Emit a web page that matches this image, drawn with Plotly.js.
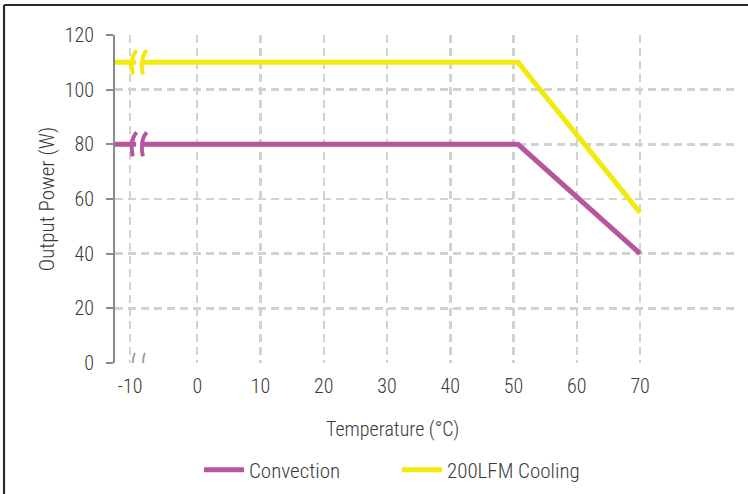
<!DOCTYPE html>
<html>
<head>
<meta charset="utf-8">
<script src="https://cdn.plot.ly/plotly-3.0.1.min.js"></script>
<style>
html,body{margin:0;padding:0;background:#fff;}
#chart{width:748px;height:494px;}
</style>
</head>
<body>
<div id="chart"></div>
<script>
// ---- data ----
const tempPoints = [-13, 50.7, 70];          // °C (axis starts left of the -10 break)
const convection = [80, 80, 40];             // W
const cooling200 = [110, 110, 55];           // W
const seriesNames = ['Convection', '200LFM Cooling'];
const seriesColors = ['#b8559f', '#f2ea0a'];

const xTickVals = [-10.6, 0, 10, 20, 30, 40, 50, 60, 70];
const xTickText = ['-10', '0', '10', '20', '30', '40', '50', '60', '70'];
const yTickVals = [0, 20, 40, 60, 80, 100, 120];

const FONT = "'Roboto Condensed', 'Liberation Sans Narrow', Roboto, sans-serif";
const TXT = '#3a3a3a';
const W = 300;

// break marks (x anchor positions in data units)
const breakX = [-10.05, -8.45];

function breakPath() {
  return 'M 3,12 C -2,7 -3,-3 -1,-12';
}
const shapes = [];
// line breaks on the two series
[[80, seriesColors[0]], [110, seriesColors[1]]].forEach(([yv, col]) => {
  shapes.push({type: 'rect', layer: 'above', xref: 'x', yref: 'y',
    xsizemode: 'pixel', ysizemode: 'pixel', xanchor: breakX[0], yanchor: yv,
    x0: 2.5, x1: 8.5, y0: -4, y1: 4, fillcolor: '#ffffff', line: {width: 0}});
  breakX.forEach(bx => shapes.push({type: 'path', layer: 'above', xref: 'x', yref: 'y',
    xsizemode: 'pixel', ysizemode: 'pixel', xanchor: bx, yanchor: yv,
    path: breakPath(), line: {color: col, width: 4}}));
});
// axis break on x axis
breakX.forEach(bx => shapes.push({type: 'path', layer: 'above', xref: 'x', yref: 'y',
  xsizemode: 'pixel', ysizemode: 'pixel', xanchor: bx - 0.1, yanchor: 0,
  path: 'M 2,10 C -2,5 2,-5 -2,-10', line: {color: '#a0a0a0', width: 2}}));
// figure frame (top and left)
shapes.push({type: 'line', xref: 'paper', yref: 'paper', x0: -0.179, x1: 1.03, y0: 1.0915, y1: 1.0915,
  line: {color: '#2a2a2a', width: 2.2}});
shapes.push({type: 'line', xref: 'paper', yref: 'paper', x0: -0.179, x1: -0.179, y0: 1.0915, y1: -0.42,
  line: {color: '#2a2a2a', width: 2.2}});

const traces = [
  {x: tempPoints, y: convection, name: seriesNames[0], mode: 'lines',
   line: {color: seriesColors[0], width: 5}, cliponaxis: true},
  {x: tempPoints, y: cooling200, name: seriesNames[1], mode: 'lines',
   line: {color: seriesColors[1], width: 5}, cliponaxis: true}
];

const gridStyle = {showgrid: true, gridcolor: '#d2d2d2', gridwidth: 2.5, griddash: '8px,5px'};

const layout = {
  width: 748, height: 494,
  margin: {l: 115, r: 13, t: 35, b: 131, autoexpand: false},
  paper_bgcolor: '#ffffff', plot_bgcolor: '#ffffff',
  font: {family: FONT, color: TXT, size: 20, weight: W},
  showlegend: true,
  legend: {orientation: 'h', xref: 'container', yref: 'container',
    x: 0.266, xanchor: 'left', y: 0.0486, yanchor: 'middle', itemwidth: 40,
    font: {family: FONT, size: 21, color: TXT, weight: W}, entrywidth: 143, entrywidthmode: 'pixels',
    bgcolor: 'rgba(0,0,0,0)'},
  xaxis: Object.assign({
    range: [-13, 85], tickmode: 'array', tickvals: xTickVals, ticktext: xTickText,
    ticks: '', showline: false, zeroline: false, ticklabelstandoff: 9, automargin: false,
    tickfont: {family: FONT, size: 20, color: TXT, weight: W}, fixedrange: true
  }, gridStyle),
  yaxis: Object.assign({
    range: [0, 120], tickmode: 'array', tickvals: yTickVals,
    ticks: 'outside', ticklen: 7, tickwidth: 2, tickcolor: '#8a8a8a',
    showline: true, linecolor: '#8a8a8a', linewidth: 2, zeroline: false,
    ticklabelstandoff: 8, automargin: false,
    tickfont: {family: FONT, size: 20, color: TXT, weight: W},
    title: {text: 'Output Power (W)', font: {family: FONT, size: 21, color: TXT, weight: W}, standoff: 4},
    fixedrange: true
  }, gridStyle),
  annotations: [
    {text: 'Temperature (°C)', xref: 'paper', yref: 'paper', x: 0.447, y: -0.201,
     xanchor: 'center', yanchor: 'middle', showarrow: false,
     font: {family: FONT, size: 20, color: TXT, weight: W}}
  ],
  shapes: shapes
};

Plotly.newPlot('chart', traces, layout, {displayModeBar: false, staticPlot: true});
</script>
</body>
</html>
